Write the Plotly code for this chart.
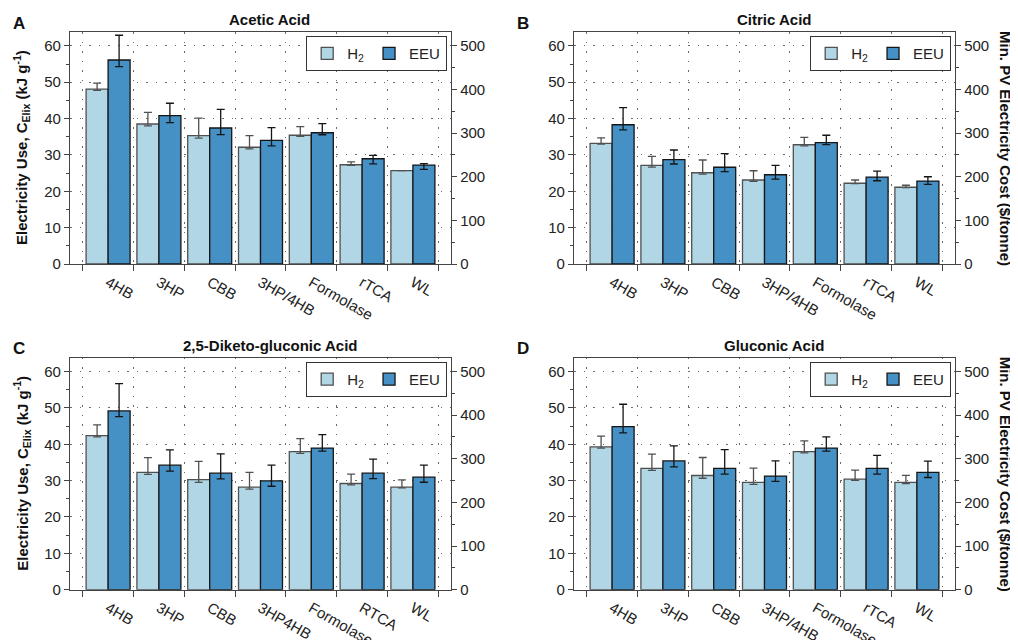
import plotly.graph_objects as go

# ---------------- data ----------------
cats_std = ["4HB", "3HP", "CBB", "3HP/4HB", "Formolase", "rTCA", "WL"]
cats_dkg = ["4HB", "3HP", "CBB", "3HP4HB", "Formolase", "RTCA", "WL"]

panel_titles = ["Acetic Acid", "Citric Acid", "2,5-Diketo-gluconic Acid", "Gluconic Acid"]
panel_letters = ["A", "B", "C", "D"]

# Acetic acid
acetic_h2 = [48.1, 38.5, 35.3, 32.1, 35.4, 27.3, 25.7]
acetic_h2_up = [1.65, 3.2, 4.8, 3.2, 2.4, 0.8, 0.0]
acetic_h2_dn = [0.35, 0.5, 0.7, 0.45, 0.3, 0.2, 0.0]
acetic_eeu = [56.1, 40.8, 37.4, 34.0, 36.1, 28.95, 27.2]
acetic_eeu_up = [6.8, 3.4, 5.1, 3.5, 2.5, 0.9, 0.4]
acetic_eeu_dn = [1.8, 1.9, 1.8, 1.5, 0.55, 1.4, 1.2]

# Citric acid
citric_h2 = [33.15, 27.1, 25.1, 23.1, 32.8, 22.2, 21.1]
citric_h2_up = [1.55, 2.5, 3.5, 2.55, 2.0, 0.9, 0.55]
citric_h2_dn = [0.2, 0.45, 0.4, 0.35, 0.3, 0.1, 0.1]
citric_eeu = [38.3, 28.7, 26.6, 24.55, 33.4, 23.9, 22.8]
citric_eeu_up = [4.7, 2.65, 3.75, 2.55, 2.0, 1.65, 1.2]
citric_eeu_dn = [1.4, 1.2, 1.2, 1.2, 0.55, 1.0, 0.9]

# 2,5-Diketo-gluconic acid
dkg_h2 = [42.35, 32.25, 30.25, 28.2, 37.95, 29.2, 28.2]
dkg_h2_up = [3.0, 4.05, 5.05, 4.05, 3.6, 2.6, 2.0]
dkg_h2_dn = [0.35, 0.55, 0.75, 0.55, 0.45, 0.35, 0.2]
dkg_eeu = [49.15, 34.25, 32.05, 29.95, 38.95, 32.05, 30.95]
dkg_eeu_up = [7.5, 4.2, 5.3, 4.3, 3.7, 3.85, 3.3]
dkg_eeu_dn = [1.55, 1.65, 1.55, 1.5, 0.85, 1.5, 1.4]

# Gluconic acid
gluc_h2 = [39.3, 33.35, 31.4, 29.5, 37.95, 30.4, 29.5]
gluc_h2_up = [2.95, 3.95, 4.95, 3.95, 2.95, 2.5, 1.95]
gluc_h2_dn = [0.35, 0.55, 0.75, 0.55, 0.35, 0.3, 0.35]
gluc_eeu = [44.85, 35.4, 33.35, 31.25, 38.95, 33.35, 32.25]
gluc_eeu_up = [6.15, 4.15, 5.15, 4.15, 3.05, 3.6, 3.1]
gluc_eeu_dn = [1.75, 1.65, 1.55, 1.45, 0.85, 1.55, 1.4]

panels = [
    (cats_std, acetic_h2, acetic_h2_up, acetic_h2_dn, acetic_eeu, acetic_eeu_up, acetic_eeu_dn),
    (cats_std, citric_h2, citric_h2_up, citric_h2_dn, citric_eeu, citric_eeu_up, citric_eeu_dn),
    (cats_dkg, dkg_h2, dkg_h2_up, dkg_h2_dn, dkg_eeu, dkg_eeu_up, dkg_eeu_dn),
    (cats_std, gluc_h2, gluc_h2_up, gluc_h2_dn, gluc_eeu, gluc_eeu_up, gluc_eeu_dn),
]

series_names = ["H<sub>2</sub>", "EEU"]
cost_per_kj = 500.0 / 60.0   # $/tonne per kJ/g (right axis scale)

# ---------------- style ----------------
PAGE_OFF = 8            # default body margin of the html page
W, H = 1018 - PAGE_OFF, 640 - PAGE_OFF
FONT = "Liberation Sans, Arial, Helvetica, sans-serif"
C_H2 = "#b1d6e6"
C_EEU = "#4590c4"
LINE_H2 = "#505050"
LINE_EEU = "#151515"
AXC = "#444444"
GRID = "#6a6a6a"
GDASH = "1.5px,8px"
YMAX = 63.8
FS = 15

def px_x(p):
    return (p - PAGE_OFF) / W

def px_y(p):
    return 1 - (p - PAGE_OFF) / H

# plot-area boxes in screen pixels (left, right, top, bottom)
boxes = [
    (70, 451, 32, 264),
    (574, 955, 32, 264),
    (70, 451, 357.7, 589.7),
    (574, 955, 357.7, 589.7),
]

fig = go.Figure()
layout = dict(
    width=W, height=H, margin=dict(l=0, r=0, t=0, b=0, autoexpand=False),
    paper_bgcolor="white", plot_bgcolor="white",
    barmode="group", bargap=0.134, bargroupgap=0.0,
    font=dict(family=FONT, size=FS, color="#222"),
    showlegend=True,
)
annotations = []

for i, (cats, h2, h2u, h2d, eeu, eeuu, eeud) in enumerate(panels):
    n = i + 1
    xa = "x" if n == 1 else f"x{n}"
    ya = "y" if n == 1 else f"y{n}"
    ya_r = f"y{n + 4}"
    leg = "legend" if n == 1 else f"legend{n}"
    l, r, t, b = boxes[i]

    fig.add_trace(go.Bar(
        x=cats, y=h2, name=series_names[0], xaxis=xa, yaxis=ya, legend=leg,
        marker=dict(color=C_H2, line=dict(color=LINE_H2, width=1.3)),
        error_y=dict(type="data", symmetric=False, array=h2u, arrayminus=h2d,
                     color=LINE_H2, thickness=1.3, width=4),
    ))
    fig.add_trace(go.Bar(
        x=cats, y=eeu, name=series_names[1], xaxis=xa, yaxis=ya, legend=leg,
        marker=dict(color=C_EEU, line=dict(color=LINE_EEU, width=1.3)),
        error_y=dict(type="data", symmetric=False, array=eeuu, arrayminus=eeud,
                     color=LINE_EEU, thickness=1.3, width=4),
    ))
    # invisible trace so the right-hand cost axis is drawn
    fig.add_trace(go.Scatter(
        x=[cats[0]], y=[h2[0] * cost_per_kj], xaxis=xa, yaxis=ya_r,
        mode="markers", marker=dict(opacity=0), showlegend=False, hoverinfo="skip",
    ))

    xkey = "xaxis" if n == 1 else f"xaxis{n}"
    ykey = "yaxis" if n == 1 else f"yaxis{n}"
    yrkey = f"yaxis{n + 4}"

    layout[xkey] = dict(
        domain=[px_x(l), px_x(r)], anchor=ya, type="category",
        categoryorder="array", categoryarray=cats,
        range=[-0.75, 6.75], automargin=False,
        showline=True, linecolor=AXC, linewidth=1.3, mirror=True,
        ticks="outside", tickson="boundaries", ticklen=6, tickcolor=AXC, tickwidth=1.2,
        tickangle=30, tickfont=dict(size=FS, color="#222"), ticklabelstandoff=3,
        showgrid=True, gridcolor=GRID, gridwidth=1, griddash=GDASH,
        zeroline=False, fixedrange=True,
    )
    layout[ykey] = dict(
        domain=[px_y(b), px_y(t)], anchor=xa,
        range=[0, YMAX], dtick=10, tick0=0, automargin=False,
        showline=True, linecolor=AXC, linewidth=1.3,
        ticks="outside", ticklen=5, tickcolor=AXC, tickwidth=1.2,
        minor=dict(dtick=5, ticks="outside", ticklen=3, tickcolor=AXC, showgrid=False),
        tickfont=dict(size=FS, color="#222"),
        showgrid=True, gridcolor=GRID, gridwidth=1, griddash=GDASH,
        zeroline=False, fixedrange=True,
    )
    layout[yrkey] = dict(
        overlaying=ya, anchor=xa, side="right",
        range=[0, YMAX * cost_per_kj], dtick=100, tick0=0, automargin=False,
        showline=True, linecolor=AXC, linewidth=1.3,
        ticks="outside", ticklen=5, tickcolor=AXC, tickwidth=1.2,
        minor=dict(dtick=50, ticks="outside", ticklen=3, tickcolor=AXC, showgrid=False),
        tickfont=dict(size=FS, color="#222"),
        showgrid=False, zeroline=False, fixedrange=True,
    )
    layout[leg] = dict(
        x=px_x(r - 4), y=px_y(t + 4), xanchor="right", yanchor="top",
        orientation="h", bgcolor="white", bordercolor="#333", borderwidth=1.2,
        font=dict(size=FS, color="#222"), itemwidth=30,
        traceorder="normal",
    )

    # panel title
    annotations.append(dict(
        text=f"<b>{panel_titles[i]}</b>", xref="paper", yref="paper",
        x=px_x((l + r) / 2 + 9), y=px_y(t - 12), xanchor="center", yanchor="middle",
        showarrow=False, font=dict(size=FS, color="#111"),
    ))
    # panel letter
    annotations.append(dict(
        text=f"<b>{panel_letters[i]}</b>", xref="paper", yref="paper",
        x=px_x(l - 51), y=px_y(t - 9), xanchor="center", yanchor="middle",
        showarrow=False, font=dict(size=17, color="#111"),
    ))
    cy = (t + b) / 2
    if n in (1, 3):
        annotations.append(dict(
            text="<b>Electricity Use, C<sub>Elix</sub> (kJ g<sup>-1</sup>)</b>",
            xref="paper", yref="paper", x=px_x(22), y=px_y(cy),
            xanchor="center", yanchor="middle", textangle=-90, showarrow=False,
            font=dict(size=FS, color="#111"),
        ))
    else:
        annotations.append(dict(
            text="<b>Min. PV Electricity Cost ($/tonne)</b>",
            xref="paper", yref="paper", x=px_x(1005), y=px_y(cy),
            xanchor="center", yanchor="middle", textangle=90, showarrow=False,
            font=dict(size=FS, color="#111"),
        ))

layout["annotations"] = annotations
fig.update_layout(**layout)
fig.write_html("out.html")
